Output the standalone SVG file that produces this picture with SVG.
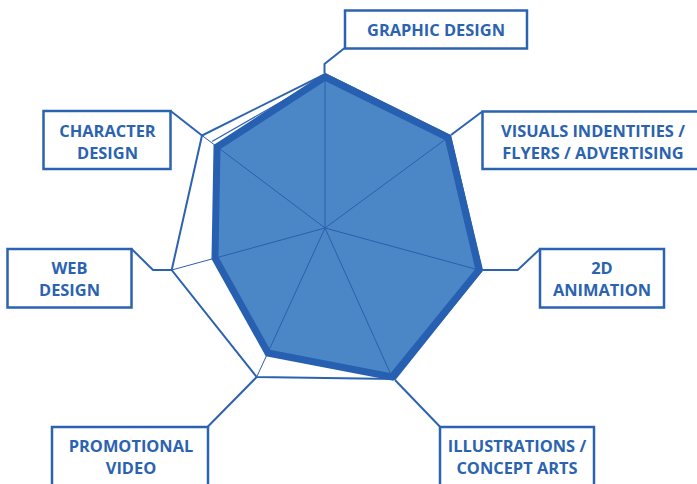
<svg xmlns="http://www.w3.org/2000/svg" width="697" height="484" viewBox="0 0 697 484">
<style>
.box{fill:#fff;stroke:#2c63b0;stroke-width:2.5}
.lbl{font-family:"Open Sans","Liberation Sans",sans-serif;font-weight:bold;font-size:16.4px;fill:#2c63b0;text-anchor:middle}
.con{fill:none;stroke:#2c63b0;stroke-width:2}
.grid{fill:none;stroke:#2c63b0;stroke-width:2;stroke-linejoin:miter}
.spoke{stroke:#2a5fae;stroke-width:1}
</style>
<rect width="697" height="484" fill="#fff"/>
<g id="chart">
<polygon class="grid" points="325,74 450,136 482,270 395,379 256.7,377 171.7,270 202,135.5"/>
<polygon points="325,77 448,137.5 479,270 392,377 268,353 215,258 217,147" fill="#4b87c6"/>
<g class="spoke">
<line x1="325" y1="228" x2="325" y2="77"/>
<line x1="325" y1="228" x2="448" y2="137.5"/>
<line x1="325" y1="228" x2="479" y2="270"/>
<line x1="325" y1="228" x2="392" y2="377"/>
<line x1="325" y1="228" x2="256.7" y2="377"/>
<line x1="325" y1="228" x2="171.7" y2="270"/>
<line x1="325" y1="228" x2="202" y2="135.5"/>
</g>
<line x1="212" y1="141.5" x2="300" y2="91" stroke="#2c63b0" stroke-width="1.2"/>
<polygon points="325,77 448,137.5 479,270 392,377 268,353 215,258 217,147" fill="none" stroke="#2760b0" stroke-width="7" stroke-linejoin="miter"/>
</g>
<g id="connectors">
<path class="con" d="M344.3,48.3 L324.5,64 L324.5,73"/>
<path class="con" d="M482,111.7 L451,135"/>
<path class="con" d="M170.7,111 L202,135.5"/>
<path class="con" d="M131.7,249 L153,270 L171.7,270"/>
<path class="con" d="M540,249 L517.7,270 L483,270"/>
<path class="con" d="M207.7,426.7 L256.7,377"/>
<path class="con" d="M440,426.7 L395,380"/>
</g>
<g id="graphic-design">
<rect class="box" x="345" y="10.5" width="182" height="38"/>
<text class="lbl" x="436" y="36">GRAPHIC DESIGN</text>
</g>
<g id="visuals">
<rect class="box" x="482.5" y="111.5" width="222" height="57.5"/>
<text class="lbl" x="593" y="136.7">VISUALS INDENTITIES /</text>
<text class="lbl" x="593" y="159.3">FLYERS / ADVERTISING</text>
</g>
<g id="character-design">
<rect class="box" x="43.5" y="111" width="127" height="58"/>
<text class="lbl" x="107.5" y="136.7">CHARACTER</text>
<text class="lbl" x="107.5" y="159.3">DESIGN</text>
</g>
<g id="web-design">
<rect class="box" x="7.5" y="249" width="124" height="58.5"/>
<text class="lbl" x="69.5" y="273.5">WEB</text>
<text class="lbl" x="69.5" y="296">DESIGN</text>
</g>
<g id="animation-2d">
<rect class="box" x="540" y="249" width="124" height="58.5"/>
<text class="lbl" x="602" y="273.5">2D</text>
<text class="lbl" x="602" y="296">ANIMATION</text>
</g>
<g id="promotional-video">
<rect class="box" x="52" y="427" width="156" height="70"/>
<text class="lbl" x="131" y="451.7">PROMOTIONAL</text>
<text class="lbl" x="131" y="473.5">VIDEO</text>
</g>
<g id="illustrations">
<rect class="box" x="440" y="427" width="154" height="70"/>
<text class="lbl" x="517" y="451.7">ILLUSTRATIONS /</text>
<text class="lbl" x="517" y="473.5">CONCEPT ARTS</text>
</g>
</svg>
